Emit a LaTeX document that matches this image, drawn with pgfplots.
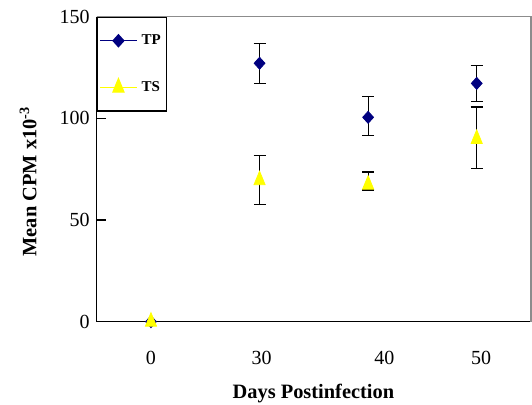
\documentclass[border=0pt]{standalone}
\usepackage{fontspec}
\setmainfont{Liberation Serif}
\usepackage{pgfplots}
\pgfplotsset{compat=1.18}
\definecolor{navyTP}{RGB}{0,0,128}
\definecolor{yellowTS}{RGB}{255,255,0}
\begin{document}
\begin{tikzpicture}
\useasboundingbox (-48.35pt,-41.65pt) rectangle (217.65pt,160.85pt);
\begin{axis}[
  scale only axis,
  width=217.15pt, height=152.5pt,
  xmin=-0.5, xmax=3.5,
  ymin=0, ymax=150,
  axis x line*=bottom, axis y line*=left,
  axis line style={black, line width=0.65pt, -},
  tick align=inside,
  xtick={0,1.02,2.15,3.04},
  xticklabels={0,30,40,50},
  major x tick style={draw=none},
  extra x ticks={0.49,1.51,2.5},
  extra x tick labels={},
  extra x tick style={major tick length=5.5pt, tick style={black, line width=0.65pt}},
  ytick={0,50,100,150},
  major tick length=4.5pt,
  y tick style={black, line width=0.65pt},
  minor tick num=0,
  tick label style={font=\fontsize{10}{12}\selectfont},
  /pgf/number format/assume math mode=true,
  xticklabel style={yshift=-11pt},
  xlabel={\textbf{Days Postinfection}},
  ylabel={\textbf{Mean CPM x10\textsuperscript{-3}}},
  label style={font=\fontsize{10.2}{12}\selectfont},
  xlabel style={at={(axis description cs:0.499,-0.234)}, anchor=center},
  ylabel style={at={(axis description cs:-0.158,0.46)}, anchor=center},
  legend style={at={(axis description cs:0,1)}, anchor=north west,
    draw=black, line width=0.65pt, fill=white,
    font=\bfseries\fontsize{7.5}{9}\selectfont,
    inner xsep=1pt, inner ysep=6.5pt, row sep=13pt,
    cells={anchor=west}},
  legend cell align=left,
  legend image code/.code={\draw[mark repeat=2,mark phase=2,#1] plot coordinates {(0pt,0pt) (9.25pt,0pt) (18.5pt,0pt)};},
  clip=false,
]
\draw[gray!90, line width=0.65pt] (rel axis cs:0,1) -- (rel axis cs:1,1) -- (rel axis cs:1,0);
\addlegendimage{navyTP, line width=0.6pt, mark=diamond*, mark size=3pt, mark options={xscale=1.2, fill=navyTP, draw=navyTP}}
\addlegendentry{TP}
\addlegendimage{yellowTS, line width=0.6pt, mark=triangle*, mark size=3.2pt, mark options={yscale=1.4, fill=yellowTS, draw=yellowTS}}
\addlegendentry{TS}
\addplot[forget plot, only marks, mark=diamond*, mark size=3pt, mark options={xscale=1.2, fill=navyTP, draw=navyTP},
  error bars/.cd, y dir=both, y explicit,
  error bar style={black, line width=0.6pt},
  error mark options={black, rotate=90, mark size=3pt, line width=0.6pt}]
  table[x=x, y=y, y error plus=ep, y error minus=em] {
x y ep em
0 0 0 0
1 127.1 9.6 9.9
2 100.5 10.3 9.0
3 117.2 8.7 9.0
};
\addplot[forget plot, only marks, mark=triangle*, mark size=3.2pt, mark options={yscale=1.4, fill=yellowTS, draw=yellowTS},
  error bars/.cd, y dir=both, y explicit,
  error bar style={black, line width=0.6pt},
  error mark options={black, rotate=90, mark size=3pt, line width=0.6pt}]
  table[x=x, y=y, y error plus=ep, y error minus=em] {
x y ep em
0 0 0 0
1 69.6 12.0 11.9
2 67.4 6.2 2.6
3 89.9 15.7 14.5
};
\end{axis}
\end{tikzpicture}
\end{document}
